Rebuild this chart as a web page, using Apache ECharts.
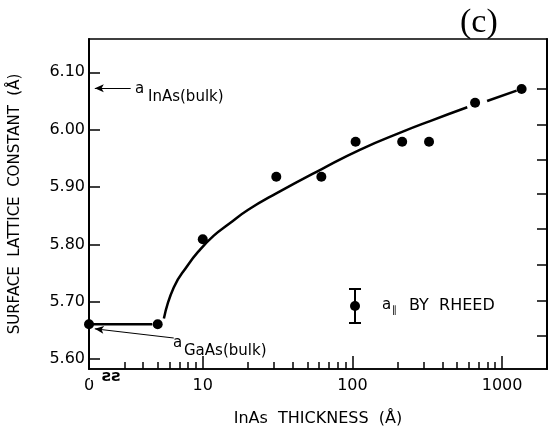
<!DOCTYPE html>
<html>
<head>
<meta charset="utf-8">
<script src="https://cdn.jsdelivr.net/npm/echarts@6/dist/echarts.min.js"></script>
<style>
  html, body { margin: 0; padding: 0; background: #fff; }
  #main { width: 549px; height: 432px; }
</style>
</head>
<body>
<div id="main"></div>
<script>
// measured points (RHEED)
var thickness = [0, 5, 10, 31, 62, 105, 215, 325, 660, 1350];
var latticeConst = [5.661, 5.661, 5.809, 5.918, 5.918, 5.979, 5.979, 5.979, 6.047, 6.071];

// guide lines drawn through the points
var flatThickness = [0, 4.6];
var flatLattice = [5.661, 5.661];
var curveThickness = [5.5, 6.4, 7.9, 9.3, 11.8, 15, 20, 31, 62, 112, 219, 330, 585, null, 794, 1250];
var curveLattice = [5.671, 5.725, 5.763, 5.787, 5.815, 5.836, 5.86, 5.889, 5.931, 5.965, 5.997, 6.015, 6.039, null, 6.05, 6.068];

// bulk values
var inasBulk = 6.072;
var gaasBulk = 5.653;

// ticks
var yTicks = [5.6, 5.7, 5.8, 5.9, 6.0, 6.1];
var rightTicks = [5.641, 5.702, 5.765, 5.828, 5.888, 5.947, 6.008, 6.071];
var xMajorTicks = [10, 100, 1000];
var xMinorTicks = [3, 4, 5, 6, 7, 8, 9, 20, 30, 40, 50, 60, 70, 80, 90, 200, 300, 400, 500, 600, 700, 800, 900];
var xTickLabels = ["0", "10", "100", "1000"];

// x axis is broken: "0" sits left of the log part
var ZERO_POS = 0.24;
function toU(t) {
  return t === 0 ? ZERO_POS : Math.log10(t);
}

function pairs(xs, ys) {
  var out = [];
  for (var i = 0; i < xs.length; i++) {
    out.push(xs[i] === null ? null : [toU(xs[i]), ys[i]]);
  }
  return out;
}

// split curve at the gap
var curveAll = pairs(curveThickness, curveLattice);
var curveParts = [[]];
curveAll.forEach(function (p) {
  if (p === null) curveParts.push([]);
  else curveParts[curveParts.length - 1].push(p);
});

var labelPos = [ZERO_POS].concat(xMajorTicks.map(toU));
var FONT = "DejaVu Sans";

var chart = echarts.init(document.getElementById("main"));

var lineStyle = { color: "#000", width: 2.5 };

var series = [
  {
    type: "line",
    data: pairs(flatThickness, flatLattice),
    symbol: "none",
    lineStyle: lineStyle,
    silent: true
  }
];
curveParts.forEach(function (part) {
  series.push({
    type: "line",
    data: part,
    symbol: "none",
    smooth: 0.5,
    lineStyle: lineStyle,
    silent: true
  });
});
series.push({
  type: "scatter",
  data: pairs(thickness, latticeConst),
  symbol: "circle",
  symbolSize: 10,
  itemStyle: { color: "#000", opacity: 1 },
  silent: true,
  markLine: {
    silent: true,
    symbol: ["none", "arrow"],
    symbolSize: [6, 9],
    label: { show: false },
    lineStyle: { color: "#000", width: 1, type: "solid" },
    data: [
      [{ coord: [toU(3.3), inasBulk] }, { coord: [toU(1.9), inasBulk] }],
      [{ coord: [toU(6.4), 5.637] }, { coord: [toU(1.9), gaasBulk] }]
    ]
  }
});

var option = {
  animation: false,
  backgroundColor: "#fff",
  title: {
    text: "(c)",
    left: 455,
    top: 1,
    textStyle: { fontFamily: "Liberation Serif", fontSize: 34, fontWeight: "normal", color: "#000" }
  },
  grid: {
    left: 88, right: 2, top: 39, bottom: 55,
    show: true, borderColor: "#000", borderWidth: 1.5
  },
  xAxis: [
    {
      type: "value",
      min: ZERO_POS,
      max: 3.3,
      name: "InAs  THICKNESS  (Å)",
      nameLocation: "middle",
      nameGap: 42,
      nameTextStyle: { fontFamily: FONT, fontSize: 16, color: "#000" },
      axisLine: { show: true, lineStyle: { color: "#000", width: 1.5 } },
      axisTick: { inside: true, length: 13, customValues: xMajorTicks.map(toU), lineStyle: { color: "#000", width: 1.5 } },
      axisLabel: {
        customValues: labelPos,
        margin: 9,
        fontFamily: FONT, fontSize: 16, color: "#000",
        formatter: function (v) {
          var i = labelPos.findIndex(function (p) { return Math.abs(p - v) < 1e-6; });
          return i >= 0 ? xTickLabels[i] : "";
        }
      },
      splitLine: { show: false }
    },
    {
      type: "value",
      min: ZERO_POS,
      max: 3.3,
      position: "bottom",
      axisLine: { show: false },
      axisTick: { inside: true, length: 7, customValues: xMinorTicks.map(toU), lineStyle: { color: "#000", width: 1.5 } },
      axisLabel: { show: false },
      splitLine: { show: false }
    }
  ],
  yAxis: [
    {
      type: "value",
      min: 5.583,
      max: 6.158,
      name: "SURFACE  LATTICE  CONSTANT  (Å)",
      nameLocation: "middle",
      nameRotate: 90,
      nameGap: 66,
      nameTextStyle: { fontFamily: FONT, fontSize: 15, color: "#000" },
      axisLine: { show: true, lineStyle: { color: "#000", width: 2 } },
      axisTick: { inside: true, length: 11, customValues: yTicks, lineStyle: { color: "#000", width: 1.5 } },
      axisLabel: {
        customValues: yTicks,
        margin: 4,
        fontFamily: FONT, fontSize: 16, color: "#000",
        formatter: function (v) { return v.toFixed(2); }
      },
      splitLine: { show: false }
    },
    {
      type: "value",
      min: 5.583,
      max: 6.158,
      position: "right",
      axisLine: { show: true, lineStyle: { color: "#000", width: 2 } },
      axisTick: { inside: true, length: 10, customValues: rightTicks, lineStyle: { color: "#000", width: 1.5 } },
      axisLabel: { show: false },
      splitLine: { show: false }
    }
  ],
  graphic: [
    // axis break
    { type: "rect", shape: { x: 90, y: 373, width: 24, height: 7 }, style: { fill: "#fff" }, z: 100 },
    { type: "text", x: 102, y: 377, z: 101, style: { text: "ƨƨ", fontFamily: FONT, fontSize: 16, fontWeight: "bold", fill: "#000", textAlign: "left", textVerticalAlign: "middle" } },
    // a_InAs(bulk)
    { type: "text", x: 135, y: 89, style: { text: "a", fontFamily: FONT, fontSize: 15, fill: "#000", textVerticalAlign: "middle" } },
    { type: "text", x: 148, y: 97, style: { text: "InAs(bulk)", fontFamily: FONT, fontSize: 15, fill: "#000", textVerticalAlign: "middle" } },
    // a_GaAs(bulk)
    { type: "text", x: 173, y: 343, style: { text: "a", fontFamily: FONT, fontSize: 15, fill: "#000", textVerticalAlign: "middle" } },
    { type: "text", x: 184, y: 351, style: { text: "GaAs(bulk)", fontFamily: FONT, fontSize: 15, fill: "#000", textVerticalAlign: "middle" } },
    // legend: error bar marker
    { type: "line", shape: { x1: 355, y1: 289, x2: 355, y2: 323 }, style: { stroke: "#000", lineWidth: 2 } },
    { type: "line", shape: { x1: 349, y1: 289, x2: 361, y2: 289 }, style: { stroke: "#000", lineWidth: 2 } },
    { type: "line", shape: { x1: 349, y1: 323, x2: 361, y2: 323 }, style: { stroke: "#000", lineWidth: 2 } },
    { type: "circle", shape: { cx: 355, cy: 306, r: 5 }, style: { fill: "#000" } },
    { type: "text", x: 382, y: 305, style: { text: "a", fontFamily: FONT, fontSize: 15, fill: "#000", textVerticalAlign: "middle" } },
    { type: "text", x: 392, y: 310, style: { text: "∥", fontFamily: FONT, fontSize: 10, fill: "#000", textVerticalAlign: "middle" } },
    { type: "text", x: 409, y: 306, style: { text: "BY  RHEED", fontFamily: FONT, fontSize: 16, fill: "#000", textVerticalAlign: "middle" } }
  ],
  series: series
};

chart.setOption(option);
</script>
</body>
</html>
